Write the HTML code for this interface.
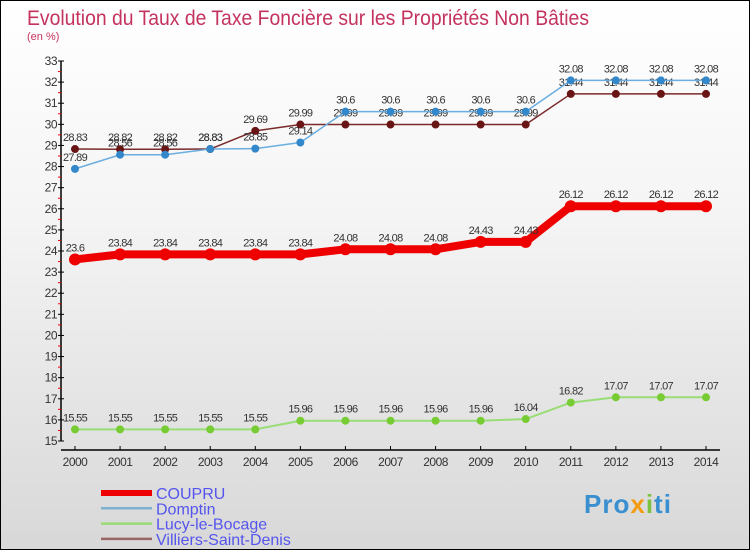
<!DOCTYPE html>
<html><head><meta charset="utf-8"><style>
body{margin:0;width:750px;height:550px;overflow:hidden;font-family:"Liberation Sans",sans-serif}
#wrap{position:relative;width:748px;height:548px;border:1px solid #000;background:linear-gradient(#fff 0%,#f4f4f4 40%,#d8d8d8 100%)}
</style></head><body>
<div id="wrap">
<svg id="chart" width="748" height="548" style="position:absolute;left:0;top:0">
<text x="26" y="24" font-size="21" fill="#c4335e" textLength="562" lengthAdjust="spacingAndGlyphs">Evolution du Taux de Taxe Foncière sur les Propriétés Non Bâties</text>
<text x="26" y="39" font-size="11" fill="#c4335e">(en %)</text>
<g id="axes"></g><g id="series"></g><g id="legend"></g>
</svg>
<div style="position:absolute;left:583px;top:488px;font:bold 26px 'Liberation Sans',sans-serif;color:#3a8fd0;letter-spacing:1px">Pro<span style="color:#f39c12">x</span><span style="color:#7cc142">i</span>ti</div>
</div>
<script>
const years=[2000,2001,2002,2003,2004,2005,2006,2007,2008,2009,2010,2011,2012,2013,2014];
const yTicks=[15,16,17,18,19,20,21,22,23,24,25,26,27,28,29,30,31,32,33];
const coupru=[23.6,23.84,23.84,23.84,23.84,23.84,24.08,24.08,24.08,24.43,24.43,26.12,26.12,26.12,26.12];
const domptin=[27.89,28.56,28.56,28.83,28.85,29.14,30.6,30.6,30.6,30.6,30.6,32.08,32.08,32.08,32.08];
const lucy=[15.55,15.55,15.55,15.55,15.55,15.96,15.96,15.96,15.96,15.96,16.04,16.82,17.07,17.07,17.07];
const villiers=[28.83,28.82,28.82,28.83,29.69,29.99,29.99,29.99,29.99,29.99,29.99,31.44,31.44,31.44,31.44];
const seriesNames=["COUPRU","Domptin","Lucy-le-Bocage","Villiers-Saint-Denis"];
const NS="http://www.w3.org/2000/svg";
const X=i=>74+i*(631/14);
const Y=v=>440-(v-15)*(380/18);
function mk(tag,attrs,parent){const e=document.createElementNS(NS,tag);for(const k in attrs)e.setAttribute(k,attrs[k]);parent.appendChild(e);return e;}
const axes=document.getElementById('axes');
let a=mk('line',{x1:60,y1:Y(33),x2:60,y2:Y(15),stroke:'#000','stroke-width':1.5},axes);

a=mk('line',{x1:60,y1:449,x2:719,y2:449,stroke:'#000','stroke-width':1.5},axes);

yTicks.forEach((t,i)=>{
  mk('line',{x1:57,y1:Y(t),x2:63,y2:Y(t),stroke:'#000'},axes);
  if(i<yTicks.length-1)mk('line',{x1:57,y1:Y(t+0.5),x2:60,y2:Y(t+0.5),stroke:'#e00'},axes);
  const tx=mk('text',{x:56,y:Y(t)+4,'text-anchor':'end','font-size':12,fill:'#333','letter-spacing':'-0.5'},axes);
  tx.textContent=t;
  
  
});
years.forEach((yr,i)=>{
  mk('line',{x1:X(i),y1:445,x2:X(i),y2:449,stroke:'#000'},axes);
  const tx=mk('text',{x:X(i),y:465,'text-anchor':'middle','font-size':12,fill:'#333','letter-spacing':'-0.5'},axes);
  tx.textContent=yr;
  
  
});
const ser=document.getElementById('series');
function draw(data,color,width,r,dot,name){
  const g=mk('g',{},ser);
  
  
  mk('polyline',{points:data.map((v,i)=>X(i)+','+Y(v)).join(' '),fill:'none',stroke:color,'stroke-width':width,'stroke-linejoin':'round'},g);
  data.forEach((v,i)=>{
    const c=mk('circle',{cx:X(i),cy:Y(v),r:r,fill:dot},g);
    
    
    const t=mk('text',{x:X(i),y:Y(v)-8,'text-anchor':'middle','font-size':11,fill:'#333','letter-spacing':'-0.7'},g);
    t.textContent=v;
    
    
  });
}
draw(lucy,'#99dd77',2,4,'#77cc33','series-lucy-le-bocage');
draw(villiers,'#7a2a2a',1.5,4,'#6a1515','series-villiers-saint-denis');
draw(domptin,'#6aaee0',1.5,4,'#3388cc','series-domptin');
draw(coupru,'#ee0000',8,6,'#ee0000','series-coupru');
const leg=document.getElementById('legend');
const legColors=['#ee0000','#7fb0d0','#99dd77','#996666'];
const legW=[6,2.5,2.5,2.5];
seriesNames.forEach((n,i)=>{
  const y=492+i*15.3;
  const g=mk('g',{},leg);
  
  
  mk('line',{x1:100,y1:y,x2:151,y2:y,stroke:legColors[i],'stroke-width':legW[i]},g);
  const t=mk('text',{x:155,y:y+6,'font-size':16,fill:'#5555ee'},g);
  t.textContent=n;
});
</script>
</body></html>
